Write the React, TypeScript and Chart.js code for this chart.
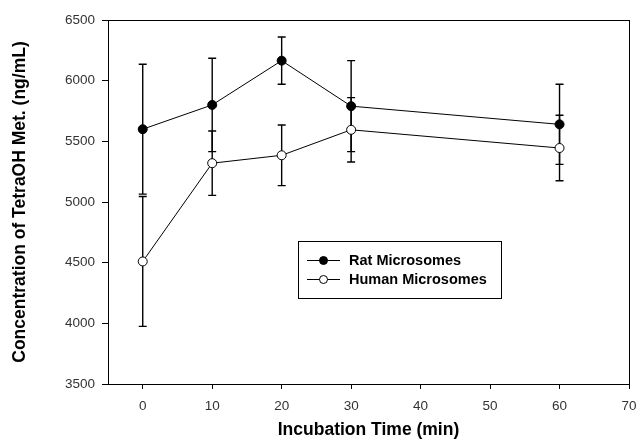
import React, { useEffect, useRef } from "react";
import { Chart, registerables } from "chart.js";

Chart.register(...registerables);

const times = [0, 10, 20, 30, 60];
const ratMean = [5600, 5800, 6165, 5790, 5640];
const ratErr = [535, 385, 195, 375, 330];
const humanMean = [4510, 5320, 5385, 5595, 5445];
const humanErr = [535, 265, 250, 265, 270];
const xTicks = [0, 10, 20, 30, 40, 50, 60, 70];
const yTicks = [3500, 4000, 4500, 5000, 5500, 6000, 6500];
const seriesNames = ["Rat Microsomes", "Human Microsomes"];

const FONT = "'Liberation Sans', Arial, sans-serif";

const errorBars = {
  id: "errorBars",
  beforeDatasetsDraw(chart: any) {
    const ctx = chart.ctx;
    const xs = chart.scales.x;
    const ys = chart.scales.y;
    const sets = [
      { m: ratMean, e: ratErr },
      { m: humanMean, e: humanErr },
    ];
    ctx.save();
    ctx.strokeStyle = "#000";
    ctx.lineWidth = 1.4;
    sets.forEach((s) => {
      times.forEach((t, i) => {
        const x = xs.getPixelForValue(t);
        const y1 = ys.getPixelForValue(s.m[i] + s.e[i]);
        const y2 = ys.getPixelForValue(s.m[i] - s.e[i]);
        ctx.beginPath();
        ctx.moveTo(x, y1);
        ctx.lineTo(x, y2);
        ctx.moveTo(x - 4, y1);
        ctx.lineTo(x + 4, y1);
        ctx.moveTo(x - 4, y2);
        ctx.lineTo(x + 4, y2);
        ctx.stroke();
      });
    });
    ctx.restore();
  },
  afterDraw(chart: any) {
    const ctx = chart.ctx;
    const a = chart.chartArea;
    ctx.save();
    ctx.strokeStyle = "#000";
    ctx.lineWidth = 1;
    ctx.strokeRect(a.left + 0.5, a.top + 0.5, a.right - a.left, a.bottom - a.top);
    // legend
    const lx = 298, ly = 241, lw = 203, lh = 57;
    ctx.strokeRect(lx + 0.5, ly + 0.5, lw, lh);
    const rows = [
      { y: 260.5, fill: "#000" },
      { y: 279.5, fill: "#fff" },
    ];
    ctx.font = `bold 14.5px ${FONT}`;
    ctx.textBaseline = "middle";
    rows.forEach((r, i) => {
      ctx.strokeStyle = "#000";
      ctx.beginPath();
      ctx.moveTo(307, r.y);
      ctx.lineTo(340, r.y);
      ctx.stroke();
      ctx.beginPath();
      ctx.arc(323.5, r.y, 4, 0, Math.PI * 2);
      ctx.fillStyle = r.fill;
      ctx.fill();
      ctx.stroke();
      ctx.fillStyle = "#000";
      ctx.fillText(seriesNames[i], 349, r.y + 0.5);
    });
    ctx.restore();
  },
};

export default function App() {
  const ref = useRef<HTMLCanvasElement>(null);
  useEffect(() => {
    const chart = new Chart(ref.current!, {
      type: "line",
      data: {
        datasets: [
          {
            label: seriesNames[0],
            data: times.map((t, i) => ({ x: t, y: ratMean[i] })),
            borderColor: "#000",
            borderWidth: 1,
            backgroundColor: "#000",
            pointBackgroundColor: "#000",
            pointBorderColor: "#000",
            pointBorderWidth: 1,
            pointRadius: 4.5,
            tension: 0,
          },
          {
            label: seriesNames[1],
            data: times.map((t, i) => ({ x: t, y: humanMean[i] })),
            borderColor: "#000",
            borderWidth: 1,
            backgroundColor: "#fff",
            pointBackgroundColor: "#fff",
            pointBorderColor: "#000",
            pointBorderWidth: 1,
            pointRadius: 4.5,
            tension: 0,
          },
        ],
      },
      options: {
        animation: false,
        responsive: false,
        layout: { padding: { top: 20, right: 9, left: 0, bottom: 0 } },
        plugins: { legend: { display: false }, tooltip: { enabled: false } },
        scales: {
          x: {
            type: "linear",
            min: -5,
            max: 70,
            afterBuildTicks: (s: any) => {
              s.ticks = xTicks.map((v) => ({ value: v }));
            },
            afterFit: (s: any) => {
              s.height = 62;
              s.paddingLeft = 0;
              s.paddingRight = 0;
            },
            grid: {
              display: true,
              drawOnChartArea: false,
              drawTicks: true,
              tickLength: 5,
              color: "#000",
            },
            border: { display: true, color: "#000", width: 1 },
            ticks: {
              color: "#333",
              font: { family: FONT, size: 13.5 },
              padding: 9,
              maxRotation: 0,
              callback: (v: any) => String(v),
            },
            title: {
              display: true,
              text: "Incubation Time (min)",
              color: "#000",
              font: { family: FONT, size: 17.5, weight: "bold" },
              padding: { top: 0, bottom: 5.5 },
            },
          },
          y: {
            type: "linear",
            min: 3500,
            max: 6500,
            afterBuildTicks: (s: any) => {
              s.ticks = yTicks.map((v) => ({ value: v }));
            },
            afterFit: (s: any) => {
              s.width = 108;
              s.paddingTop = 0;
              s.paddingBottom = 0;
            },
            grid: {
              display: true,
              drawOnChartArea: false,
              drawTicks: true,
              tickLength: 6,
              color: "#000",
            },
            border: { display: true, color: "#000", width: 1 },
            ticks: {
              color: "#333",
              font: { family: FONT, size: 13.5 },
              padding: 7,
              callback: (v: any) => String(v),
            },
            title: {
              display: true,
              text: "Concentration of TetraOH Met. (ng/mL)",
              color: "#000",
              font: { family: FONT, size: 17.5, weight: "bold" },
              padding: { top: 9.5, bottom: 0 },
            },
          },
        },
      },
      plugins: [errorBars],
    } as any);
    return () => chart.destroy();
  }, []);
  return (
    <div style={{ position: "absolute", left: 0, top: 0, width: 638, height: 446 }}>
      <canvas ref={ref} width={638} height={446} style={{ width: 638, height: 446 }} />
    </div>
  );
}
